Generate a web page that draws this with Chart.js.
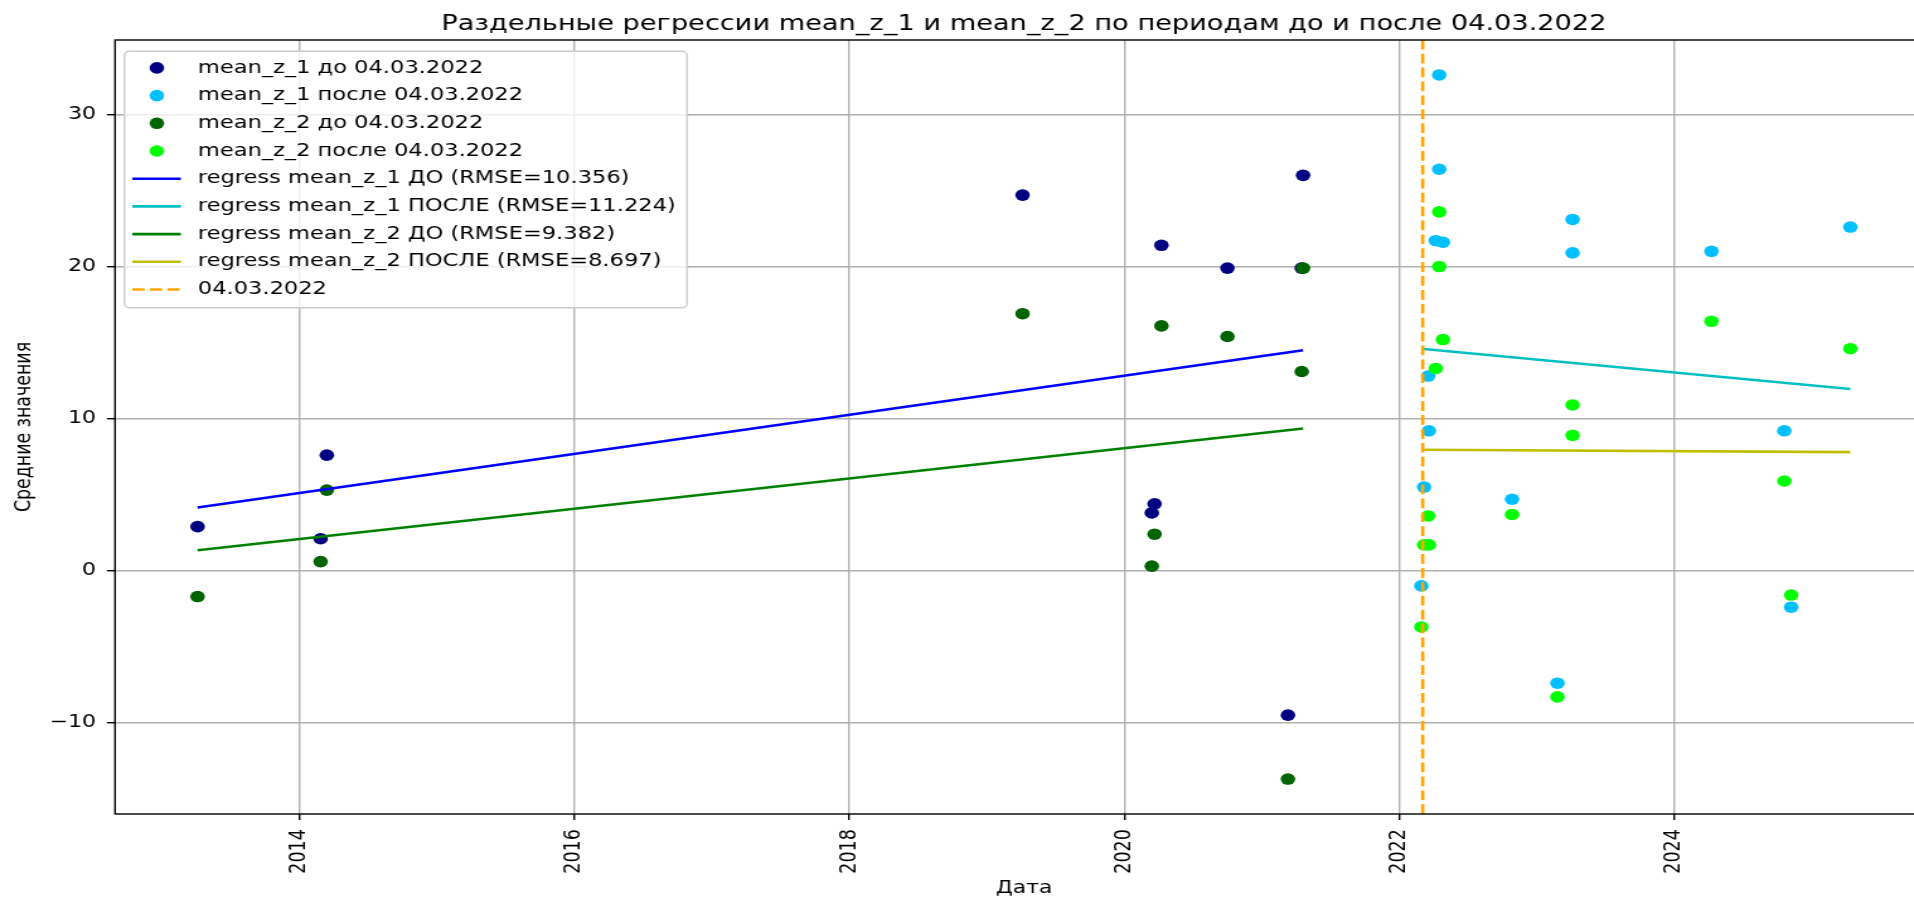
<!DOCTYPE html>
<html>
<head>
<meta charset="utf-8">
<script src="https://cdn.jsdelivr.net/npm/chart.js@4.4.1/dist/chart.umd.min.js"></script>
<style>
html, body { margin: 0; padding: 0; overflow: hidden; background: #fff; }
/* the reference picture is stretched sideways, so the chart is drawn narrow and scaled */
#wrap { width: 1540px; height: 902px; transform: scaleX(1.26); transform-origin: 0 0; }
</style>
</head>
<body>
<div id="wrap"><canvas id="chart" width="1540" height="902"></canvas></div>
<script>

// dates as decimal years
const datesBefore = [2013.26, 2014.155, 2014.20, 2019.26, 2020.20, 2020.22, 2020.27, 2020.75, 2021.19, 2021.29, 2021.30];
const z1Before = [2.9, 2.1, 7.6, 24.7, 3.8, 4.4, 21.4, 19.9, -9.5, 19.9, 26.0];
const z2Before = [-1.7, 0.6, 5.3, 16.9, 0.3, 2.4, 16.1, 15.4, -13.7, 13.1, 19.9];

const datesAfter = [2022.16, 2022.18, 2022.21, 2022.215, 2022.265, 2022.29, 2022.29, 2022.317, 2022.82, 2023.15, 2023.26, 2023.26, 2024.27, 2024.80, 2024.85, 2025.28];
const z1After = [-1.0, 5.5, 12.8, 9.2, 21.7, 32.6, 26.4, 21.6, 4.7, -7.4, 23.1, 20.9, 21.0, 9.2, -2.4, 22.6];
const z2After = [-3.7, 1.7, 3.6, 1.7, 13.3, 23.6, 20.0, 15.2, 3.7, -8.3, 10.9, 8.9, 16.4, 5.9, -1.6, 14.6];

// regression lines, first and last date of each period
const regBeforeDates = [2013.26, 2021.30];
const regZ1Before = [4.15, 14.5];
const regZ2Before = [1.35, 9.35];
const regAfterDates = [2022.16, 2025.28];
const regZ1After = [14.6, 11.95];
const regZ2After = [7.95, 7.8];

const cutDate = 2022.17;
const cutLabel = '04.03.2022';

const xTicks = [2014, 2016, 2018, 2020, 2022, 2024];
const yTicks = [-10, 0, 10, 20, 30];
const xRange = [2012.66, 2025.88];
const yRange = [-16.0, 34.9];

const seriesLabels = [
	'mean_z_1 до 04.03.2022',
	'mean_z_1 после 04.03.2022',
	'mean_z_2 до 04.03.2022',
	'mean_z_2 после 04.03.2022',
	'regress mean_z_1 ДО (RMSE=10.356)',
	'regress mean_z_1 ПОСЛЕ (RMSE=11.224)',
	'regress mean_z_2 ДО (RMSE=9.382)',
	'regress mean_z_2 ПОСЛЕ (RMSE=8.697)'
];

const titleText = 'Раздельные регрессии mean_z_1 и mean_z_2 по периодам до и после 04.03.2022';


const FONT = "'DejaVu Sans', sans-serif";
Chart.defaults.font.family = FONT;
Chart.defaults.color = '#000';

const pts = ( xs, ys ) => xs.map( ( x, i ) => ({ x: x, y: ys[i] }) );

const dot = ( label, xs, ys, color, order ) => ({
	label: label,
	data: pts( xs, ys ),
	backgroundColor: color,
	pointRadius: 5.8,
	pointHoverRadius: 5.8,
	pointBorderWidth: 0,
	order: order
});

const line = ( label, xs, ys, color, order, dash ) => ({
	label: label,
	data: pts( xs, ys ),
	showLine: true,
	borderColor: color,
	borderWidth: 2.6,
	borderDash: dash || [],
	pointRadius: 0,
	order: order
});


/* frame (spines), title and matplotlib style legend */

const frame = {
	id: 'frame',
	afterDatasetsDraw( chart ) {
		const { ctx, chartArea: a } = chart;
		ctx.save();
		ctx.strokeStyle = '#000';
		ctx.lineWidth = 1.4;
		ctx.strokeRect( a.left, a.top, a.right - a.left, a.bottom - a.top );
		ctx.restore();
	}
};

const title = {
	id: 'mplTitle',
	afterDraw( chart ) {
		const { ctx, chartArea: a } = chart;
		ctx.save();
		ctx.font = '21.6px ' + FONT;
		ctx.fillStyle = '#000';
		ctx.textAlign = 'center';
		ctx.textBaseline = 'alphabetic';
		ctx.fillText( titleText, ( a.left + a.right ) / 2, 30 );
		ctx.restore();
	}
};

const legend = {
	id: 'mplLegend',
	afterDraw( chart ) {
		const { ctx, chartArea: a } = chart;
		const sets = chart.data.datasets;
		ctx.save();
		ctx.font = '17.9px ' + FONT;
		const left = a.left + 7.5, top = a.top + 11.3;
		const textX = left + 58.2;
		let maxW = 0;
		sets.forEach( ds => { maxW = Math.max( maxW, ctx.measureText( ds.label ).width ); } );
		ctx.beginPath();
		ctx.roundRect( left, top, textX - left + maxW + 9, 256.4, 4 );
		ctx.fillStyle = 'rgba(255,255,255,0.8)';
		ctx.fill();
		ctx.strokeStyle = '#cccccc';
		ctx.lineWidth = 1.4;
		ctx.stroke();
		sets.forEach( ( ds, i ) => {
			const y = top + 16.6 + i * 27.7;
			if ( ds.showLine ) {
				ctx.beginPath();
				ctx.setLineDash( ds.borderDash );
				ctx.strokeStyle = ds.borderColor;
				ctx.lineWidth = ds.borderWidth;
				ctx.moveTo( left + 6.2, y );
				ctx.lineTo( left + 44.7, y );
				ctx.stroke();
				ctx.setLineDash( [] );
			} else {
				ctx.beginPath();
				ctx.fillStyle = ds.backgroundColor;
				ctx.arc( left + 25.7, y, ds.pointRadius, 0, Math.PI * 2 );
				ctx.fill();
			}
			ctx.fillStyle = '#000';
			ctx.textAlign = 'left';
			ctx.textBaseline = 'middle';
			ctx.fillText( ds.label, textX, y );
		});
		ctx.restore();
	}
};


const data = {
	datasets: [
		dot( seriesLabels[0], datesBefore, z1Before, '#000080', 9 ),
		dot( seriesLabels[1], datesAfter, z1After, '#00bfff', 8 ),
		dot( seriesLabels[2], datesBefore, z2Before, '#006400', 7 ),
		dot( seriesLabels[3], datesAfter, z2After, '#00ff00', 6 ),
		line( seriesLabels[4], regBeforeDates, regZ1Before, '#0000ff', 5 ),
		line( seriesLabels[5], regAfterDates, regZ1After, '#00bfbf', 4 ),
		line( seriesLabels[6], regBeforeDates, regZ2Before, '#008000', 3 ),
		line( seriesLabels[7], regAfterDates, regZ2After, '#bfbf00', 2 ),
		line( cutLabel, [cutDate, cutDate], yRange, '#ffa500', 1, [9.7, 4.2] )
	]
};

const options = {
	responsive: false,
	animation: false,
	events: [],
	layout: {
		padding: { top: 40, right: 6, bottom: 0, left: 0 }
	},
	plugins: {
		legend: { display: false },
		tooltip: { enabled: false },
		title: { display: false }
	},
	scales: {
		x: {
			type: 'linear',
			position: 'bottom',
			min: xRange[0],
			max: xRange[1],
			afterBuildTicks: ( s ) => { s.ticks = xTicks.map( v => ({ value: v }) ); },
			afterFit: ( s ) => { s.height = 88; },
			grid: { color: '#b0b0b0', lineWidth: 1.4, tickColor: '#000', tickLength: 6, tickWidth: 1.4 },
			border: { display: false },
			ticks: {
				autoSkip: false,
				minRotation: 90,
				maxRotation: 90,
				padding: 9,
				font: { size: 17.6 },
				color: '#000',
				callback: ( v ) => String( v )
			},
			title: { display: true, text: 'Дата', font: { size: 17.4 }, color: '#000', padding: { top: 0, bottom: 3 } }
		},
		y: {
			type: 'linear',
			min: yRange[0],
			max: yRange[1],
			afterBuildTicks: ( s ) => { s.ticks = yTicks.map( v => ({ value: v }) ); },
			afterFit: ( s ) => { s.width = 91.3; },
			grid: { color: '#b0b0b0', lineWidth: 1.4, tickColor: '#000', tickLength: 6.5, tickWidth: 1.4 },
			border: { display: false },
			ticks: {
				padding: 8.5,
				font: { size: 17.6 },
				color: '#000',
				callback: ( v ) => v < 0 ? '\u2212' + Math.abs( v ) : String( v )
			},
			title: { display: true, text: 'Средние значения', font: { size: 17.4 }, color: '#000', padding: { top: 9.5, bottom: 0 } }
		}
	}
};

const chart = new Chart( document.getElementById('chart'), {
	type: 'scatter',
	data: data,
	options: options,
	plugins: [ frame, title, legend ]
});

</script>
</body>
</html>
